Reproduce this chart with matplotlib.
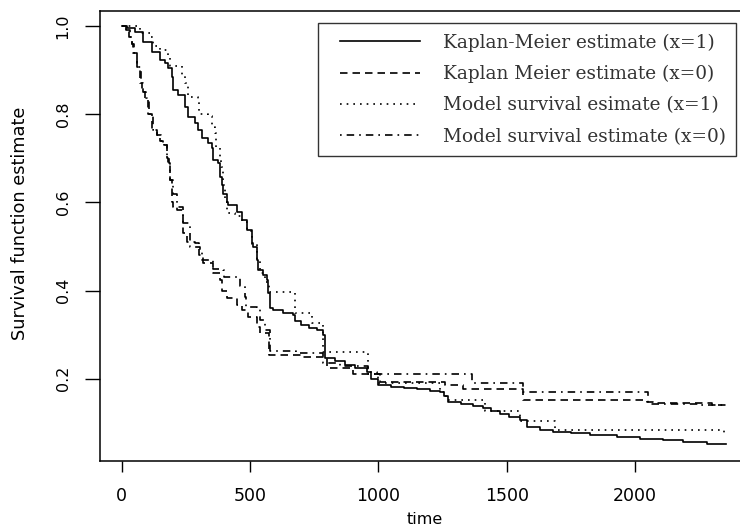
import matplotlib
matplotlib.use("Agg")
import matplotlib.pyplot as plt
from matplotlib.legend_handler import HandlerLine2D

# ---- data ----
end_time = 2355

km1_t = [0, 20, 52, 84, 117, 149, 169, 182, 195, 201,
         221, 247, 260, 286, 298, 312, 337, 351, 357, 376,
         383, 390, 396, 409, 415, 448, 467, 487, 506, 513,
         526, 532, 552, 565, 571, 578, 591, 630, 668, 675,
         700, 730, 760, 785, 792, 830, 870, 910, 954, 970,
         999, 1050, 1100, 1150, 1200, 1240, 1255, 1271, 1320, 1370,
         1409, 1440, 1474, 1510, 1552, 1578, 1630, 1681, 1750, 1824,
         1928, 2019, 2109, 2187, 2279]
km1_s = [1.0, 0.995, 0.987, 0.964, 0.942, 0.923, 0.915, 0.904, 0.885, 0.855,
         0.843, 0.817, 0.794, 0.78, 0.764, 0.745, 0.734, 0.723, 0.696, 0.689,
         0.658, 0.64, 0.62, 0.60, 0.594, 0.578, 0.56, 0.537, 0.507, 0.50,
         0.47, 0.447, 0.435, 0.424, 0.394, 0.36, 0.356, 0.35, 0.345, 0.33,
         0.322, 0.315, 0.311, 0.30, 0.247, 0.24, 0.232, 0.225, 0.216, 0.20,
         0.186, 0.182, 0.179, 0.176, 0.173, 0.171, 0.16, 0.148, 0.143, 0.138,
         0.133, 0.127, 0.12, 0.113, 0.107, 0.09, 0.085, 0.08, 0.076, 0.073,
         0.069, 0.064, 0.061, 0.057, 0.052]

km0_t = [0, 15, 30, 39, 45, 58, 71, 80, 91, 104,
         117, 136, 150, 162, 175, 182, 188, 195, 201, 240,
         253, 285, 300, 318, 357, 383, 390, 409, 448, 467,
         493, 526, 539, 575, 700, 798, 901, 1006, 1259, 1330,
         1565, 2045, 2070, 2300]
km0_s = [1.0, 0.99, 0.976, 0.96, 0.938, 0.908, 0.87, 0.85, 0.836, 0.80,
         0.764, 0.753, 0.74, 0.73, 0.70, 0.69, 0.65, 0.60, 0.59, 0.53,
         0.51, 0.507, 0.48, 0.462, 0.44, 0.424, 0.40, 0.383, 0.367, 0.356,
         0.34, 0.318, 0.303, 0.255, 0.25, 0.224, 0.212, 0.193, 0.186, 0.176,
         0.152, 0.148, 0.145, 0.14]

mod1_t = [0, 70, 110, 120, 150, 181, 190, 234, 245, 260,
          298, 300, 337, 350, 363, 366, 383, 388, 395, 402,
          410, 441, 467, 487, 506, 526, 540, 560, 575, 675,
          740, 785, 958, 1000, 1240, 1265, 1416, 1552, 1688, 2345]
mod1_s = [1.0, 0.985, 0.976, 0.955, 0.945, 0.93, 0.91, 0.889, 0.87, 0.84,
          0.835, 0.80, 0.795, 0.77, 0.757, 0.726, 0.704, 0.68, 0.64, 0.60,
          0.576, 0.57, 0.555, 0.535, 0.505, 0.47, 0.44, 0.42, 0.397, 0.35,
          0.326, 0.261, 0.212, 0.19, 0.17, 0.153, 0.128, 0.105, 0.085, 0.078]

mod0_t = [0, 18, 33, 42, 48, 61, 74, 83, 94, 107,
          120, 139, 153, 165, 178, 185, 190, 201, 214, 240,
          266, 305, 312, 357, 396, 400, 448, 461, 480, 485,
          526, 539, 560, 578, 680, 785, 850, 960, 993, 1363,
          1565, 2052, 2250]
mod0_s = [1.0, 0.99, 0.976, 0.96, 0.938, 0.908, 0.87, 0.85, 0.836, 0.80,
          0.764, 0.753, 0.74, 0.73, 0.70, 0.69, 0.65, 0.62, 0.583, 0.553,
          0.50, 0.492, 0.47, 0.45, 0.447, 0.43, 0.428, 0.41, 0.386, 0.363,
          0.36, 0.333, 0.31, 0.262, 0.258, 0.235, 0.228, 0.215, 0.211, 0.19,
          0.17, 0.144, 0.14]

labels = ["Kaplan-Meier estimate (x=1)",
          "Kaplan Meier estimate (x=0)",
          "Model survival esimate (x=1)",
          "Model survival estimate (x=0)"]

x_ticks = [0, 500, 1000, 1500, 2000]
y_ticks = [0.2, 0.4, 0.6, 0.8, 1.0]


class InsetLine(HandlerLine2D):
    """Legend line sample that starts a little to the right of its box."""
    def __init__(self, inset, **kw):
        super().__init__(**kw)
        self.inset = inset

    def get_xdata(self, legend, xdescent, ydescent, width, height, fontsize):
        xd = [-xdescent + self.inset, width - xdescent]
        return xd, xd


# ---- figure ----
fig = plt.figure(figsize=(7.4, 5.29), dpi=100)
ax = fig.add_axes([99.7 / 740, 1 - 460.7 / 529, (750 - 99.7) / 740, (460.7 - 11) / 529])

def close(t, s):
    return list(t) + [end_time], list(s) + [s[-1]]

styles = [
    (km1_t, km1_s, dict(linestyle="-", linewidth=1.2)),
    (km0_t, km0_s, dict(linestyle=(0, (4.5, 3)), linewidth=1.2)),
    (mod1_t, mod1_s, dict(linestyle=(0, (1, 3)), linewidth=1.2)),
    (mod0_t, mod0_s, dict(linestyle=(0, (1, 3, 4.5, 3)), linewidth=1.2)),
]
handles = []
for (t, s, st), lab in zip(styles, labels):
    tt, ss = close(t, s)
    h, = ax.step(tt, ss, where="post", color="black", label=lab, **st)
    handles.append(h)

ax.set_xlim(-85.7, 2447.6)
ax.set_ylim(0.0143, 1.034)
ax.set_xticks(x_ticks)
ax.set_xticklabels([str(v) for v in x_ticks])
ax.set_yticks(y_ticks)
ax.set_yticklabels([f"{v:.1f}" for v in y_ticks], rotation=90, va="center")

for sp in ax.spines.values():
    sp.set_linewidth(1.1)
ax.spines["right"].set_visible(False)

ax.tick_params(axis="x", length=8, width=1.0, pad=11, labelsize=12.5)
ax.tick_params(axis="y", length=11, width=1.0, pad=10, labelsize=11.5)

ax.set_xlabel("time", fontsize=11.5, labelpad=5)
ax.set_ylabel("Survival function estimate", fontsize=12.8)
ax.yaxis.set_label_coords((29 - 99.7) / 650.3, 0.528)

fs = 13.3
handler = InsetLine(inset=8.4)
leg = ax.legend(handles=handles, labels=labels, loc="upper left",
                bbox_to_anchor=(318 / 740, 1 - 23 / 529), bbox_transform=fig.transFigure,
                frameon=True, fancybox=False, shadow=False, edgecolor="black",
                prop=dict(family="DejaVu Serif", size=fs),
                handlelength=4.96, handletextpad=1.25, labelspacing=0.72,
                borderpad=0.56, borderaxespad=0.0,
                handler_map={h: handler for h in handles})
leg.get_frame().set_linewidth(1.0)
for txt in leg.get_texts():
    txt.set_color("#333333")

fig.savefig("out.png", dpi=100)
